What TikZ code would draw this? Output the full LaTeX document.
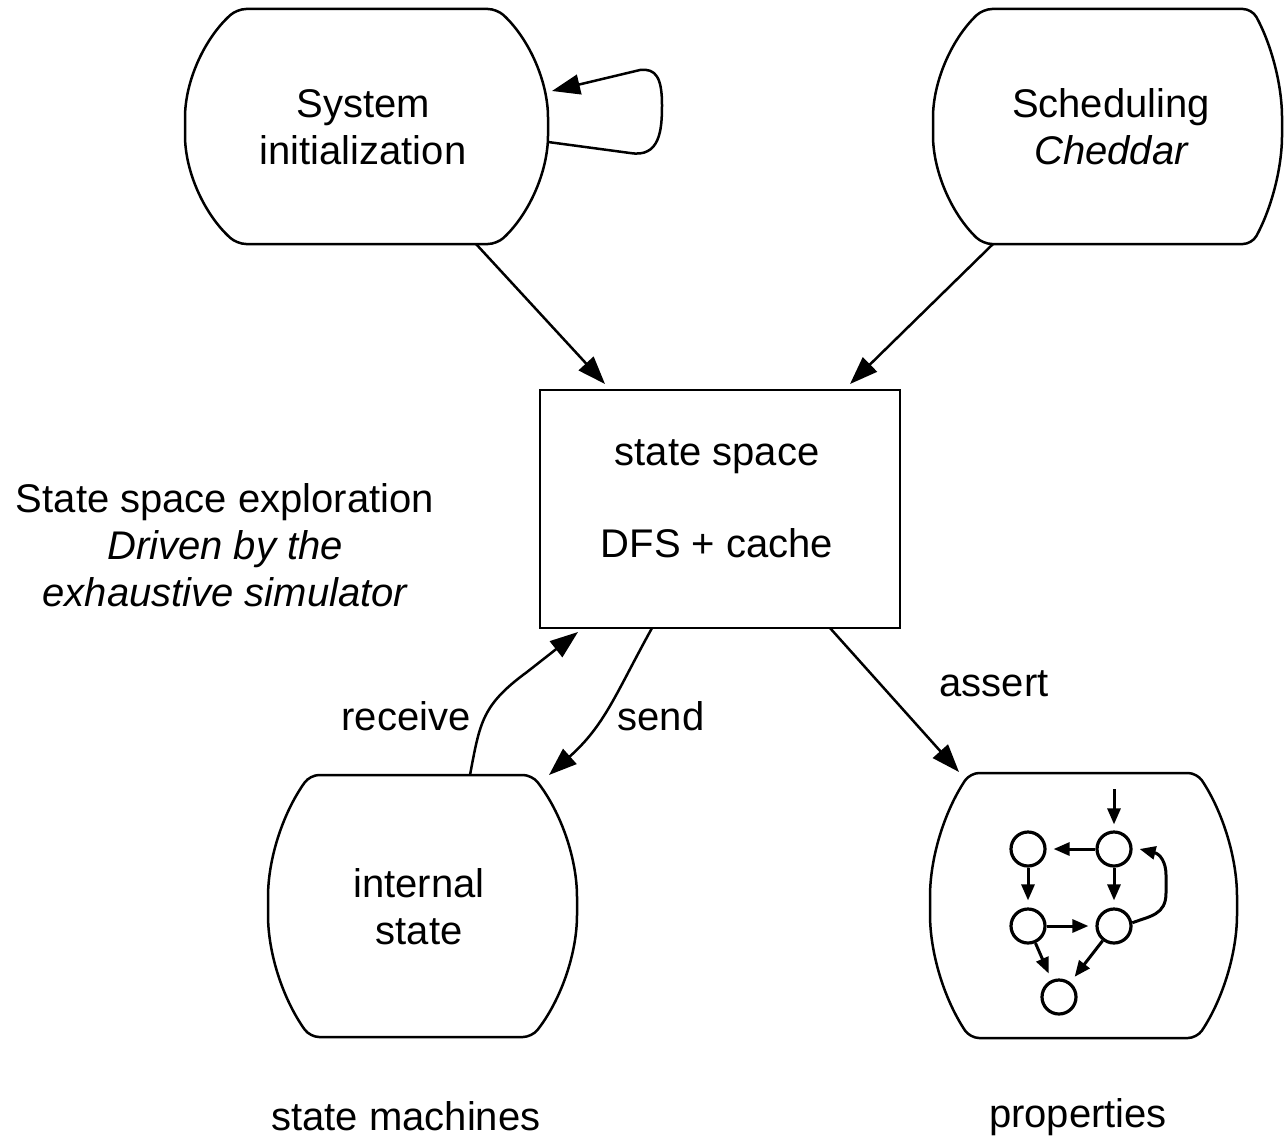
\documentclass[tikz,border=0pt]{standalone}
\usepackage{fontspec}
\setmainfont{Liberation Sans}
\usetikzlibrary{arrows.meta}
\newcommand\barrelpath[6]{%
  \pgfmathsetmacro\bh{(#6-#5)/2}%
  \pgfmathsetmacro\bm{(#5+#6)/2}%
  \pgfmathsetmacro\bxm{(#1+#2)/2}%
  \pgfmathsetmacro\bRr{((\bh/#4)*\bh+#4)/2}%
  \pgfmathsetmacro\bthr{asin(\bh/\bRr)}%
  \pgfmathsetmacro\bkr{4/3*tan(\bthr/4)*\bRr}%
  \pgfmathsetmacro\bax{\bkr*\bh/\bRr}%
  \pgfmathsetmacro\bay{\bkr*(\bRr-#4)/\bRr}%
  \pgfmathsetmacro\bRl{((\bh/#3)*\bh+#3)/2}%
  \pgfmathsetmacro\bthl{asin(\bh/\bRl)}%
  \pgfmathsetmacro\bkl{4/3*tan(\bthl/4)*\bRl}%
  \pgfmathsetmacro\bbx{\bkl*\bh/\bRl}%
  \pgfmathsetmacro\bby{\bkl*(\bRl-#3)/\bRl}%
  \draw[shapeline] (\bxm,#5) -- (#2,#5)
    .. controls (#2+\bax,#5+\bay) and (#2+#4,\bm-\bkr) .. (#2+#4,\bm)
    .. controls (#2+#4,\bm+\bkr) and (#2+\bax,#6-\bay) .. (#2,#6)
    -- (#1,#6)
    .. controls (#1-\bbx,#6-\bby) and (#1-#3,\bm+\bkl) .. (#1-#3,\bm)
    .. controls (#1-#3,\bm-\bkl) and (#1-\bbx,#5+\bby) .. (#1,#5) -- cycle;
}
\begin{document}
\begin{tikzpicture}[x=1pt,y=-1pt,
  shapeline/.style={line width=2.5pt, rounded corners=9pt},
  txt/.style={align=center, inner sep=0pt, font=\fontsize{40}{47}\selectfont},
  conn/.style={line width=2.5pt, -{Triangle[length=28pt,width=20pt]}},
  mini/.style={line width=3pt, -{Triangle[length=16pt,width=13pt]}},
  minic/.style={circle, draw, line width=3.2pt, minimum size=34pt, inner sep=0pt}]
\useasboundingbox (0,0) rectangle (1284,1137);

% shapes
\barrelpath{237}{497}{52}{51}{9}{244}
\barrelpath{983}{1252}{50}{30}{9}{244}
\barrelpath{310}{532}{42}{45}{775}{1037}
\barrelpath{970}{1197}{40}{40}{773}{1038}

\node[txt] (sysinit) at (363,127) {System\\initialization};
\node[txt] (sched) at (1111,127) {Scheduling\\\itshape Cheddar};
\node[draw, line width=2.5pt, minimum width=360pt, minimum height=238pt, inner sep=0pt] (ss) at (720,509) {};
\node[txt] (sstext) at (717,499) {state space\\[45pt]DFS + cache};
\node[txt] (istate) at (419,907) {internal\\state};
\node[txt] (explore) at (225,545) {State space exploration\\\itshape Driven by the\\\itshape exhaustive simulator};
\node[txt] (smlabel) at (406,1116) {state machines};
\node[txt] (proplabel) at (1078,1117) {properties};

% anchor coordinates on shape borders
\coordinate (sysinit-out) at (476,244);
\coordinate (sysinit-r1) at (548,142);
\coordinate (sysinit-r2) at (552,91);
\coordinate (sched-out) at (993,244);
\coordinate (ss-in1) at (605,384);
\coordinate (ss-in2) at (850,384);
\coordinate (ss-out1) at (652,628);
\coordinate (ss-out2) at (830,628);
\coordinate (ss-in3) at (578,632);
\coordinate (istate-in) at (549,775);
\coordinate (istate-out) at (470,775);
\coordinate (props-in) at (959,772);

\draw[conn] (sysinit-out) -- (ss-in1);
\draw[conn] (sched-out) -- (ss-in2);
\draw[conn] (ss-out2) -- (props-in);
\node[txt] (assertlbl) at (994,684) {assert};
\draw[conn] (ss-out1) .. controls (615,695) and (605,725) .. (istate-in);
\node[txt] (sendlbl) at (661,716) {send};
\draw[conn] (istate-out) .. controls (480,722) and (482,705) .. (527,672) -- (ss-in3);
\node[txt] (recvlbl) at (406,716) {receive};
\draw[conn] (sysinit-r1) -- (630,153) .. controls (660,158) and (662,130) .. (662,105)
  .. controls (662,78) and (656,68) .. (640,70) -- (sysinit-r2);

% mini graph
\node[minic] (c1) at (1028,849) {};
\node[minic] (c2) at (1114,849) {};
\node[minic] (c3) at (1028,926) {};
\node[minic] (c4) at (1114,926) {};
\node[minic] (c5) at (1059,997) {};
\coordinate (cin) at (1114,789);
\draw[mini, shorten >=6pt] (cin) -- (c2);
\draw[mini, shorten >=7pt] (c2) -- (c1);
\draw[mini, shorten >=7pt] (c1) -- (c3);
\draw[mini, shorten >=7pt] (c2) -- (c4);
\draw[mini, shorten >=7pt] (c3) -- (c4);
\draw[mini, shorten >=7pt] (c3) -- (c5);
\draw[mini, shorten >=7pt] (c4) -- (c5);
\draw[mini] (c4.10) .. controls (1150,916) and (1166,915) .. (1166,893)
  -- (1166,875) .. controls (1166,862) and (1160,854) .. ([xshift=7pt]c2.east);
\end{tikzpicture}
\end{document}
